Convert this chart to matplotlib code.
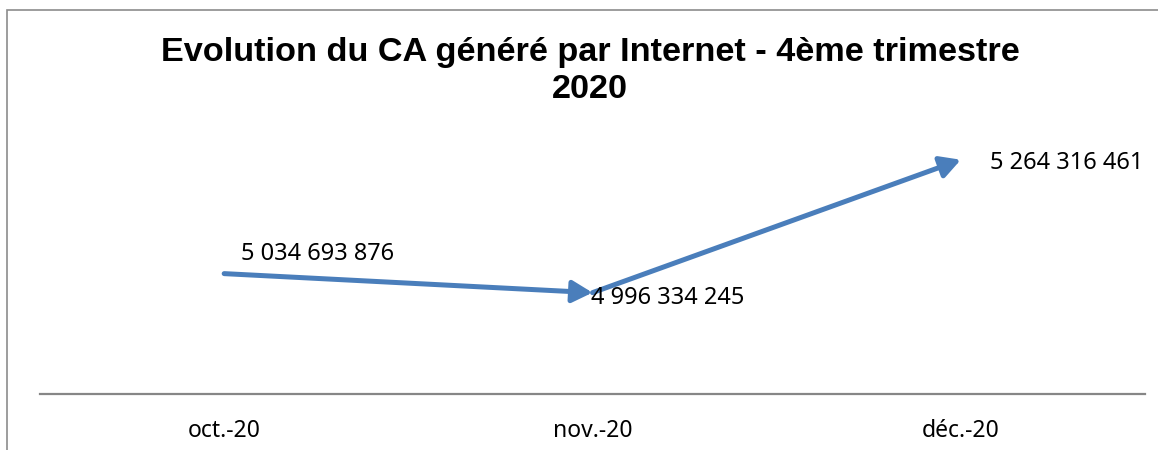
import matplotlib
matplotlib.use("Agg")
import matplotlib.pyplot as plt
import matplotlib.patches as mpatches

LINE_COLOR = "#4A7EBB"
AXIS_COLOR = "#868686"
TEXT_COLOR = "#000000"

months = ["oct.-20", "nov.-20", "déc.-20"]
ca_values = [5034693876, 4996334245, 5264316461]
value_labels = ["5 034 693 876", "4 996 334 245", "5 264 316 461"]
title = "Evolution du CA généré par Internet - 4ème trimestre\n2020"

W, H = 1158, 450
fig = plt.figure(figsize=(W / 100, H / 100), dpi=100, facecolor="white")

# outer chart frame (only left/top visible in the crop)
frame = mpatches.Rectangle((7 / W, -0.1), 1.2, 1 - 10 / H + 0.1, transform=fig.transFigure,
                           fill=False, edgecolor="#8C8C8C", linewidth=1.2, clip_on=False)
fig.patches.append(frame)

ax = fig.add_axes([40 / W, 56 / H, 1105 / W, 248 / H])
ax.set_facecolor("none")
ax.set_xlim(-0.5, len(months) - 0.5)
ax.set_ylim(4.792e9, 5.292e9)

x = list(range(len(months)))
for i in range(len(x) - 1):
    ax.annotate("", xy=(x[i + 1], ca_values[i + 1]), xytext=(x[i], ca_values[i]),
                arrowprops=dict(arrowstyle="-|>,head_length=0.55,head_width=0.3",
                                color=LINE_COLOR, lw=3.6,
                                mutation_scale=22, shrinkA=0, shrinkB=0,
                                capstyle="round"))

label_font = dict(family=["Noto Sans", "DejaVu Sans"], fontsize=17, color=TEXT_COLOR)
offsets = [(12, 14), (-1, -4), (21, -2)]
for xi, v, lab, off in zip(x, ca_values, value_labels, offsets):
    ax.annotate(lab, (xi, v), textcoords="offset points", xytext=off,
                ha="left", va="center", **label_font)

for s in ["top", "right", "left"]:
    ax.spines[s].set_visible(False)
ax.spines["bottom"].set_color(AXIS_COLOR)
ax.spines["bottom"].set_linewidth(1.6)
ax.set_yticks([])
ax.set_xticks(x)
ax.set_xticklabels(months, family=["Noto Sans", "DejaVu Sans"], fontsize=16.5, color=TEXT_COLOR)
ax.tick_params(axis="x", length=0, pad=18)

fig.text(590 / W, 1 - 71 / H, title, ha="center", va="center", multialignment="center",
         family=["Liberation Sans", "DejaVu Sans"], fontweight="bold",
         fontsize=24.7, linespacing=1.22, color=TEXT_COLOR)

fig.savefig("out.png", dpi=100, facecolor="white")
